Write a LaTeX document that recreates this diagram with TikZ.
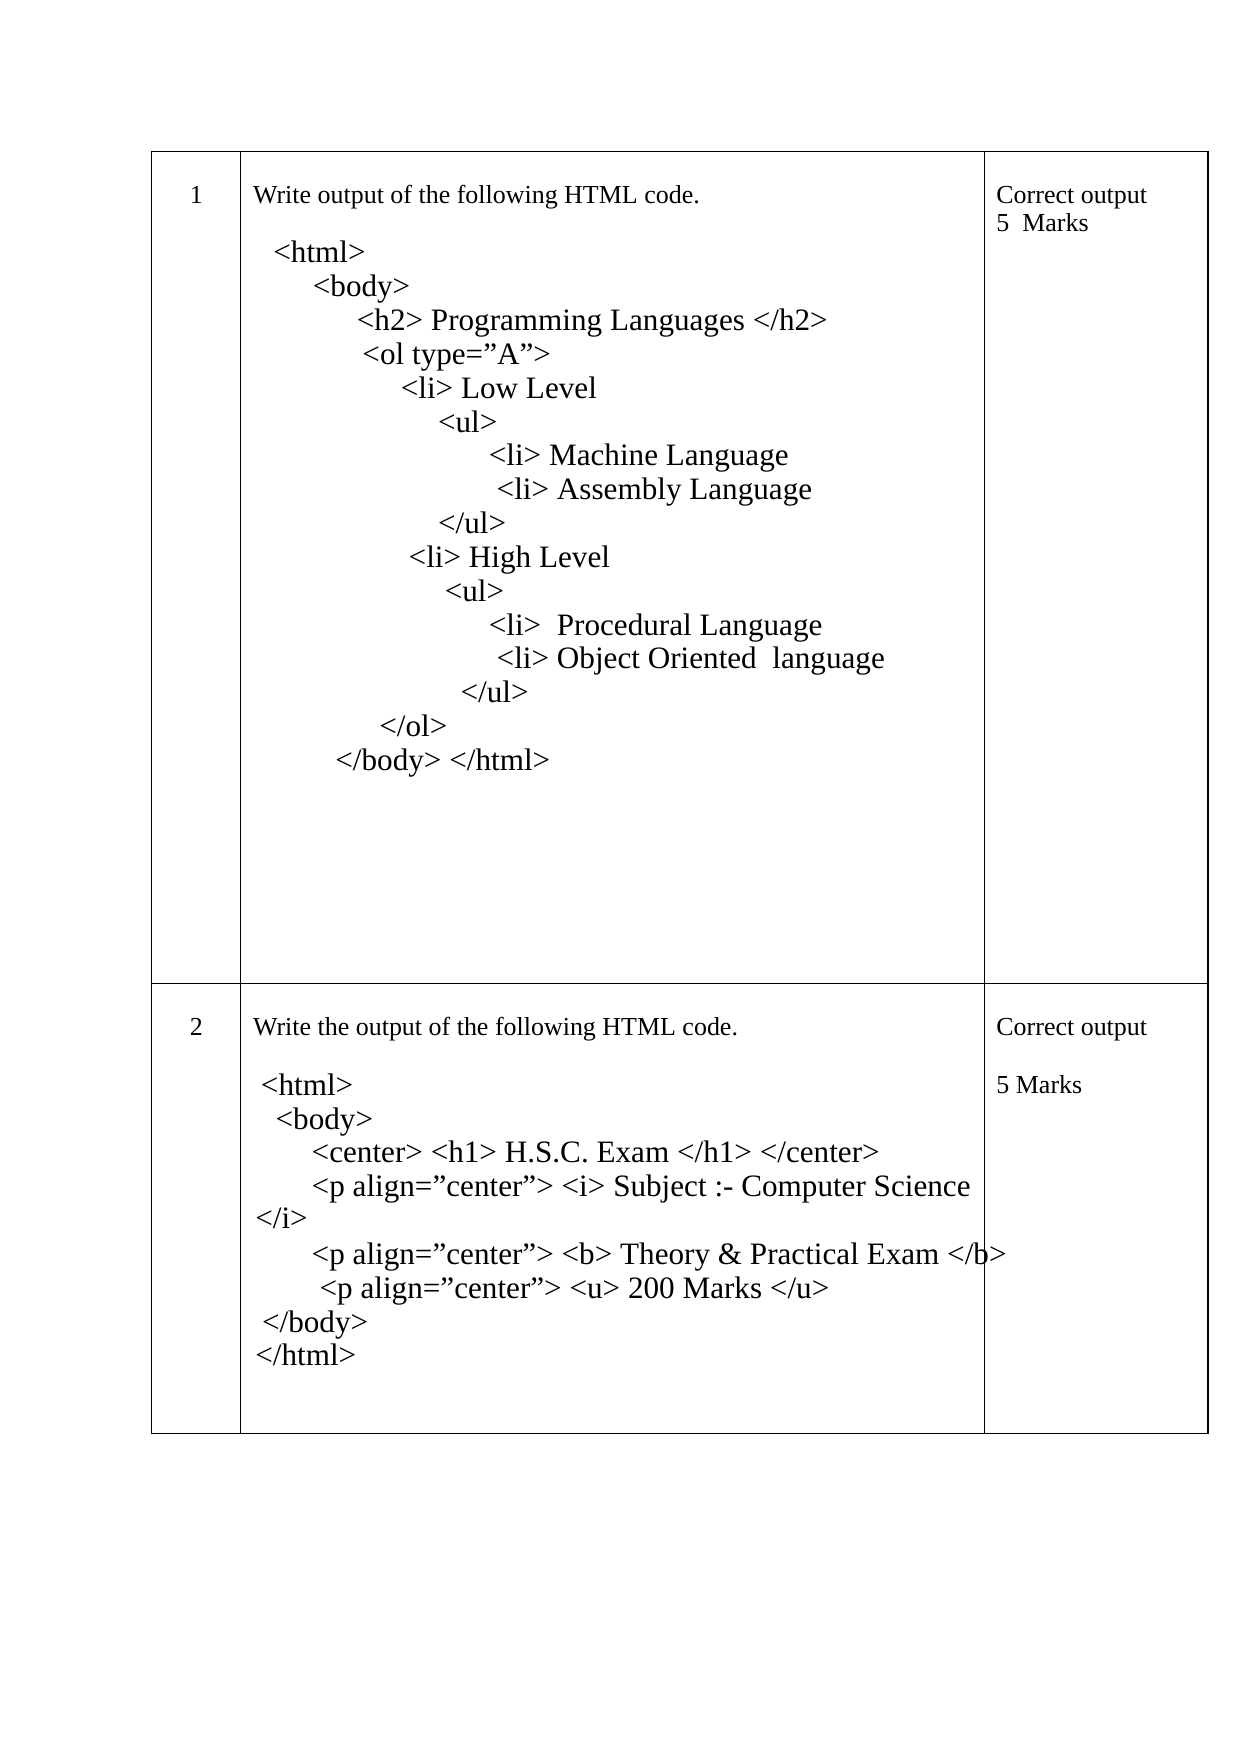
\documentclass[tikz,border=0pt]{standalone}
\usepackage{fontspec}
\setmainfont{Liberation Serif}
\newcommand{\unitsize}{0.01909cm}
\tikzset{
	code/.style={anchor=base west, inner sep=0pt, font=\fontsize{15}{18}\selectfont},
	plain/.style={anchor=base west, inner sep=0pt, font=\fontsize{12.5}{15}\selectfont},
	num/.style={anchor=base, inner sep=0pt, font=\fontsize{12.5}{15}\selectfont}
}
\begin{document}
\begin{tikzpicture}[x=\unitsize,y=-\unitsize]
	\useasboundingbox (0,0) rectangle (1100,1555);
	% table
	\draw[line width=0.6pt] (134,134) rectangle (1071,1271);
	\draw[line width=0.6pt] (134,872) -- (1071,872);
	\draw[line width=0.6pt] (213,134) -- (213,1271);
	\draw[line width=0.6pt] (873,134) -- (873,1271);

	% row 1
	\node[num] (n1) at (174,180) {1};
	\node[plain] (q1) at (224,180) {Write output of the following HTML code.};
	\node[plain] (m1a) at (883,180) {Correct output};
	\node[plain] (m1b) at (883,205) {5\ \ Marks};
	\node[code] (a1) at (242,233) {<html>};
	\node[code] (a2) at (277,263) {<body>};
	\node[code] (a3) at (316,293) {<h2> Programming Languages </h2>};
	\node[code] (a4) at (321,323) {<ol type=”A”>};
	\node[code] (a5) at (355,353) {<li> Low Level};
	\node[code] (a6) at (388,383) {<ul>};
	\node[code] (a7) at (433,413) {<li> Machine Language};
	\node[code] (a8) at (440,443) {<li> Assembly Language};
	\node[code] (a9) at (388,473) {</ul>};
	\node[code] (a10) at (362,503) {<li> High Level};
	\node[code] (a11) at (394,533) {<ul>};
	\node[code] (a12) at (433,563) {<li>\ \ Procedural Language};
	\node[code] (a13) at (440,593) {<li> Object Oriented\ \ language};
	\node[code] (a14) at (408,623) {</ul>};
	\node[code] (a15) at (336,653) {</ol>};
	\node[code] (a16) at (297,683) {</body> </html>};

	% row 2
	\node[num] (n2) at (174,918) {2};
	\node[plain] (q2) at (224,918) {Write the output of the following HTML code.};
	\node[plain] (m2a) at (883,918) {Correct output};
	\node[plain] (m2b) at (883,969) {5 Marks};
	\node[code] (b1) at (231,971) {<html>};
	\node[code] (b2) at (244,1001) {<body>};
	\node[code] (b3) at (276,1031) {<center> <h1> H.S.C. Exam </h1> </center>};
	\node[code] (b4) at (276,1061) {<p align=”center”> <i> Subject :- Computer Science};
	\node[code] (b5) at (226,1089) {</i>};
	\node[code] (b6) at (276,1121) {<p align=”center”> <b> Theory \& Practical Exam </b>};
	\node[code] (b7) at (283,1151) {<p align=”center”> <u> 200 Marks </u>};
	\node[code] (b8) at (232,1181) {</body>};
	\node[code] (b9) at (226,1211) {</html>};
\end{tikzpicture}
\end{document}
